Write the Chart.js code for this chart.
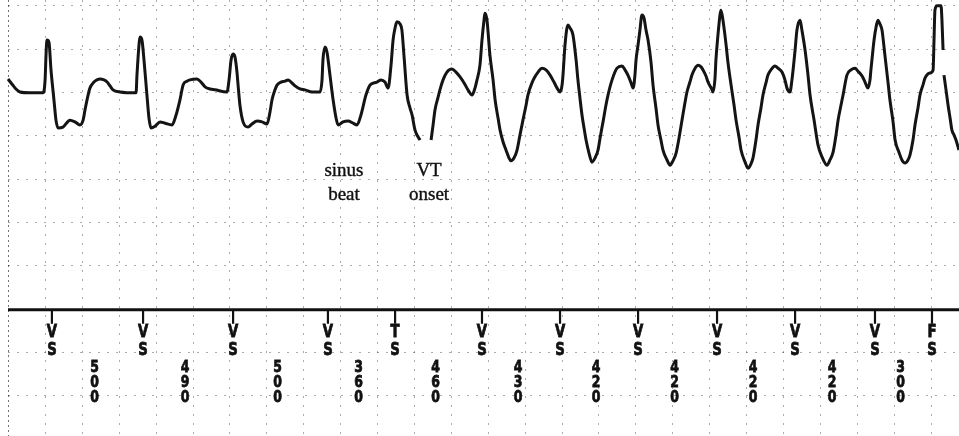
<!DOCTYPE html>
<html><head><meta charset="utf-8">
<script src="https://cdn.jsdelivr.net/npm/chart.js@4/dist/chart.umd.min.js"></script>
<style>html,body{margin:0;padding:0;background:#fff;overflow:hidden}canvas{display:block}</style>
</head><body><canvas id="c" width="959" height="436"></canvas>
<script>
// ECG trace: time (ms) and amplitude (grid divisions, baseline = 0); null = gap in the trace
const ecgTime = [
 0,22,43,65,119,190,201,206,211,222,233,249,260,271,298,336,363,390,407,417,434,444,466,482,499,520,537,553,569,607,694,
 699,710,715,726,737,753,764,775,797,824,851,889,911,932,949,970,986,1024,1046,1068,1095,1122,1187,
 1198,1209,1220,1230,1241,1247,1257,1274,1301,1322,1350,1377,1404,1420,1431,1447,1458,1480,1501,1518,1534,1556,1583,1610,1648,1691,
 1702,1707,1718,1729,1745,1762,1778,1789,1816,1843,1870,1892,1913,1940,1962,1984,2000,2022,2043,2060,2076,2087,2098,2108,2125,2135,2146,2163,2179,2190,2206,2233,
 2263,
 2293,2304,2314,2331,2341,2358,2379,2406,2428,2450,2472,2493,2515,2531,2542,2558,2569,2580,2585,2596,2612,2629,2640,2656,2667,2683,2699,2715,2726,2743,2759,2775,2791,2808,2818,2840,2856,2873,2894,2916,2938,2959,2976,2992,
 3003,3008,3019,3035,3046,3062,3079,3089,3100,3111,3122,3133,3149,3165,3182,3198,3209,3225,3241,3252,3274,3301,3328,3344,3360,3377,3388,
 3398,3404,3415,3425,3436,3447,3458,3469,3485,3496,3512,3523,3539,3550,3572,3588,3604,3621,3637,3653,3669,3680,3696,3707,3724,3740,3756,3767,3783,3794,3816,3821,
 3832,3837,3848,3859,3864,3875,3892,3902,3919,3935,3946,3962,3973,3995,4011,4027,4038,4054,4065,4081,4092,4108,4119,4135,4157,4173,4195,4211,4222,4238,
 4249,4266,4276,4293,4303,4320,4336,4347,4369,4390,4412,4439,4455,4472,4488,4499,4515,4526,4547,4569,4591,4607,4629,4645,4661,
 4672,4677,4688,4694,4705,4715,4726,4737,4748,4759,4770,4780,4797,4808,4829,4845,4862,4878,4889,4905,4916,4932,4943,4959,4970,4986,4997,5014,
 5019,5024,5035,5057,5062,5068,
 5070,
 5073,5084,5095,5106,5116,5127,5138,5154
];
const ecgAmp = [
 0.30,0.18,0.07,0,-0.02,-0.02,0.28,0.85,1.20,1.15,0.51,-0.18,-0.65,-0.83,-0.81,-0.65,-0.69,-0.76,-0.65,-0.42,-0.07,0.09,0.23,0.28,0.30,0.28,0.23,0.14,0.05,0,-0.02,
 0.39,1.09,1.27,1.20,0.74,-0.07,-0.60,-0.83,-0.79,-0.69,-0.72,-0.76,-0.53,-0.18,0.16,0.25,0.28,0.30,0.23,0.12,0.07,0.05,0,
 0.28,0.74,0.88,0.81,0.46,0.16,-0.30,-0.69,-0.81,-0.74,-0.67,-0.69,-0.74,-0.46,-0.18,0.05,0.16,0.23,0.25,0.28,0.23,0.14,0.07,0.05,0,0,
 0.28,0.74,1.04,0.92,0.39,-0.18,-0.60,-0.76,-0.69,-0.67,-0.72,-0.76,-0.53,-0.07,0.16,0.21,0.23,0.28,0.23,0.09,0.62,1.20,1.48,1.62,1.57,1.43,0.85,-0.07,-0.37,-0.53,-0.88,-1.11,
 null,
 -1.11,-0.76,-0.42,-0.12,0.05,0.28,0.46,0.53,0.46,0.35,0.21,0.05,-0.07,0.09,0.28,0.62,1.20,1.66,1.82,1.66,0.85,0.28,-0.18,-0.60,-0.88,-1.15,-1.34,-1.52,-1.59,-1.52,-1.34,-0.99,-0.65,-0.30,-0.07,0.21,0.35,0.46,0.55,0.51,0.39,0.23,0.09,0,
 0.16,0.39,1.09,1.55,1.48,1.32,0.74,0.28,-0.14,-0.53,-0.83,-1.11,-1.41,-1.62,-1.52,-1.34,-1.06,-0.69,-0.30,-0.07,0.28,0.55,0.60,0.51,0.39,0.21,0.09,
 0.39,0.74,1.09,1.43,1.78,1.71,1.43,1.20,0.69,0.16,-0.37,-0.76,-1.11,-1.34,-1.57,-1.69,-1.59,-1.41,-1.06,-0.65,-0.25,0,0.23,0.39,0.55,0.62,0.58,0.51,0.37,0.23,0.05,0,
 0.32,0.74,1.32,1.78,1.89,1.66,1.09,0.69,0.16,-0.30,-0.65,-1.04,-1.34,-1.62,-1.76,-1.66,-1.52,-1.11,-0.76,-0.37,-0.07,0.21,0.39,0.51,0.60,0.55,0.46,0.28,0.09,0,
 0.28,0.97,1.43,1.66,1.43,0.97,0.39,-0.07,-0.65,-1.22,-1.50,-1.69,-1.57,-1.39,-0.99,-0.65,-0.30,-0.07,0.39,0.51,0.55,0.48,0.37,0.23,0.09,
 0.28,0.51,0.97,1.20,1.50,1.66,1.57,1.43,1.04,0.62,0.21,-0.18,-0.69,-1.11,-1.39,-1.57,-1.64,-1.57,-1.45,-1.11,-0.76,-0.37,-0.07,0.16,0.32,0.42,0.44,0.51,
 1.20,1.89,1.99,1.99,1.66,0.97,
 null,
 0.39,0.05,-0.30,-0.60,-0.88,-0.99,-1.11,-1.34
];

// Marker channel
const markerTime   = [238, 732, 1220, 1734, 2098, 2569, 2992, 3415, 3843, 4266, 4699, 5008];
const markerTop    = ['V','V','V','V','T','V','V','V','V','V','V','F'];
const markerBottom = ['S','S','S','S','S','S','S','S','S','S','S','S'];
const intervalLabels = ['500','490','500','360','460','430','420','420','420','420','300'];

// Text annotations
const noteLines = [['sinus','beat'], ['VT','onset']];
const noteTime  = [1821, 2282];

const markerLevel = -5.03;
const gridAmps = [2,1,0,-1,-2,-3,-4,-6,-7];
const gridStepMs = 200;

function glyph(ctx, ch, px, py) {
  ctx.save();
  ctx.translate(px, py);
  ctx.scale(0.78, 1);
  ctx.fillText(ch, 0, 0);
  ctx.strokeText(ch, 0, 0);
  ctx.restore();
}

const stripPlugin = {
  id: 'strip',
  beforeDatasetsDraw(chart) {
    const {ctx, chartArea: a} = chart;
    const x = chart.scales.x, y = chart.scales.y;
    ctx.save();
    ctx.lineWidth = 1;
    for (let t = 0; t <= x.max; t += gridStepMs) {
      const px = Math.round(x.getPixelForValue(t)) + 0.5;
      ctx.strokeStyle = t === 0 ? 'rgba(0,0,0,0.55)' : 'rgba(0,0,0,0.33)';
      ctx.setLineDash(t === 0 ? [2,3] : [2,7]);
      ctx.beginPath(); ctx.moveTo(px, a.top); ctx.lineTo(px, a.bottom); ctx.stroke();
    }
    ctx.strokeStyle = 'rgba(0,0,0,0.33)';
    ctx.setLineDash([2,7]);
    for (const v of gridAmps) {
      const py = Math.round(y.getPixelForValue(v)) + 0.5;
      ctx.beginPath(); ctx.moveTo(x.getPixelForValue(0), py); ctx.lineTo(a.right, py); ctx.stroke();
    }
    ctx.restore();
  },
  afterDatasetsDraw(chart) {
    const {ctx, chartArea: a} = chart;
    const x = chart.scales.x, y = chart.scales.y;
    const ly = y.getPixelForValue(markerLevel);
    ctx.save();
    ctx.setLineDash([]);
    ctx.strokeStyle = '#111';
    ctx.lineWidth = 3;
    ctx.beginPath(); ctx.moveTo(x.getPixelForValue(0), ly); ctx.lineTo(a.right, ly); ctx.stroke();
    ctx.fillStyle = '#111';
    ctx.textAlign = 'center';
    ctx.textBaseline = 'middle';
    ctx.font = 'bold 17px "DejaVu Sans"';
    markerTime.forEach((t, i) => {
      const px = x.getPixelForValue(t);
      ctx.lineWidth = 2.2;
      ctx.beginPath(); ctx.moveTo(px, ly); ctx.lineTo(px, ly + 14); ctx.stroke();
      ctx.lineWidth = 0.8;
      glyph(ctx, markerTop[i], px, ly + 23);
      glyph(ctx, markerBottom[i], px, ly + 41);
    });
    ctx.font = 'bold 16px "DejaVu Sans"';
    intervalLabels.forEach((lab, i) => {
      const px = (x.getPixelForValue(markerTime[i]) + x.getPixelForValue(markerTime[i + 1])) / 2 - 3;
      [...lab].forEach((ch, k) => glyph(ctx, ch, px, ly + 58 + k * 15));
    });
    ctx.font = '19px "Liberation Serif"';
    ctx.fillStyle = '#111';
    ctx.strokeStyle = '#111';
    ctx.lineWidth = 0.4;
    ctx.textBaseline = 'alphabetic';
    noteLines.forEach((lines, i) => {
      const px = x.getPixelForValue(noteTime[i]);
      lines.forEach((s, k) => {
        const py = y.getPixelForValue(-1.94) + k * 24;
        ctx.fillText(s, px, py);
        ctx.strokeText(s, px, py);
      });
    });
    ctx.restore();
  }
};

new Chart(document.getElementById('c'), {
  type: 'line',
  data: {
    datasets: [{
      data: ecgTime.map((t, i) => ({x: t, y: ecgAmp[i]})),
      borderColor: '#141414',
      borderWidth: 3,
      pointRadius: 0,
      cubicInterpolationMode: 'monotone',
      spanGaps: false,
      fill: false
    }]
  },
  options: {
    responsive: false,
    animation: false,
    layout: {padding: 0},
    plugins: {legend: {display: false}, tooltip: {enabled: false}},
    scales: {
      x: {type: 'linear', display: false, min: -43.4, max: 5154.4},
      y: {type: 'linear', display: false, min: -7.945, max: 2.125}
    }
  },
  plugins: [stripPlugin]
});
</script></body></html>
